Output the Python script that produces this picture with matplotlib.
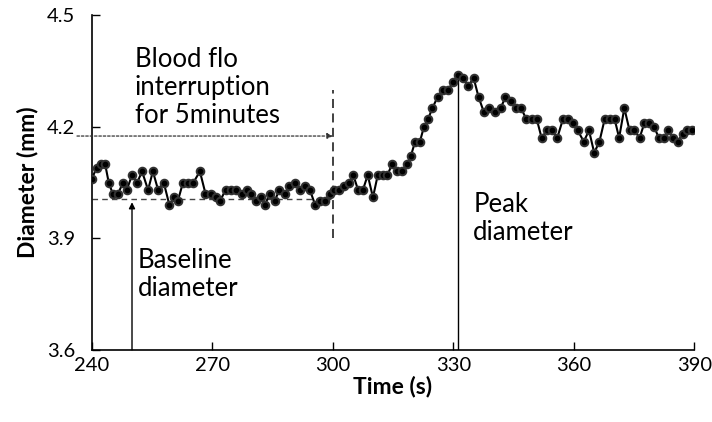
import matplotlib
matplotlib.use("Agg")
import matplotlib.pyplot as plt

# Data (time in s, diameter in mm)
time_s = [240.0, 241.2, 242.4, 243.3, 244.2, 245.2, 246.5, 247.8, 248.7, 250.0,
          251.3, 252.5, 254.0, 255.2, 256.5, 257.9, 259.3, 260.5, 261.4, 262.7,
          264.0, 265.3, 266.9, 268.3, 269.6, 270.8, 271.9, 273.3, 274.6, 275.9,
          277.3, 278.6, 279.7, 280.8, 282.0, 283.1, 284.3, 285.5, 286.7, 288.0,
          289.2, 290.5, 291.8, 293.0, 294.3, 295.6, 296.8, 298.0, 299.2, 300.4,
          301.6, 302.8, 304.0, 305.1, 306.3, 307.5, 308.7, 310.0, 311.2, 312.4,
          313.6, 314.8, 316.0, 317.2, 318.4, 319.4, 320.5, 321.7, 322.7, 323.7,
          324.8, 326.1, 327.4, 328.7, 330.0, 331.2, 332.4, 333.7, 335.1, 336.3,
          337.6, 339.0, 340.5, 341.8, 343.0, 344.4, 345.7, 346.9, 348.2, 349.5,
          350.8, 352.0, 353.3, 354.6, 355.9, 357.3, 358.5, 359.8, 361.0, 362.5,
          363.8, 365.1, 366.4, 367.7, 369.0, 370.2, 371.3, 372.6, 373.9, 375.1,
          376.4, 377.6, 378.8, 380.0, 381.2, 382.4, 383.5, 384.7, 385.9, 387.1,
          388.3, 389.5]
diameter_mm = [4.06, 4.09, 4.10, 4.10, 4.05, 4.02, 4.02, 4.05, 4.03, 4.07,
               4.05, 4.08, 4.03, 4.08, 4.03, 4.05, 3.99, 4.01, 4.00, 4.05,
               4.05, 4.05, 4.08, 4.02, 4.02, 4.01, 4.00, 4.03, 4.03, 4.03,
               4.02, 4.03, 4.02, 4.00, 4.01, 3.99, 4.02, 4.00, 4.03, 4.02,
               4.04, 4.05, 4.03, 4.04, 4.03, 3.99, 4.00, 4.00, 4.02, 4.03,
               4.03, 4.04, 4.05, 4.07, 4.03, 4.03, 4.07, 4.01, 4.07, 4.07,
               4.07, 4.10, 4.08, 4.08, 4.10, 4.12, 4.16, 4.16, 4.20, 4.22,
               4.25, 4.28, 4.30, 4.30, 4.32, 4.34, 4.33, 4.31, 4.33, 4.28,
               4.24, 4.25, 4.24, 4.25, 4.28, 4.27, 4.25, 4.25, 4.22, 4.22,
               4.22, 4.17, 4.19, 4.19, 4.17, 4.22, 4.22, 4.21, 4.19, 4.16,
               4.19, 4.13, 4.16, 4.22, 4.22, 4.22, 4.17, 4.25, 4.19, 4.19,
               4.17, 4.21, 4.21, 4.20, 4.17, 4.17, 4.19, 4.17, 4.16, 4.18,
               4.19, 4.19]

x_ticks = [240, 270, 300, 330, 360, 390]
y_ticks = [3.6, 3.9, 4.2, 4.5]
y_tick_labels = ["3.6", "3.9", "4.2", "4.5"]

baseline_value = 4.005
occlusion_end = 300
arrow_level = 4.175
baseline_time = 250
peak_time = 331.2
peak_value = 4.34

FONT = ["Lato", "DejaVu Sans"]
plt.rcParams['font.family'] = FONT

fig = plt.figure(figsize=(7.12, 4.22), dpi=100)
ax = fig.add_axes([0.129, 0.171, 0.846, 0.793])

ax.plot(time_s, diameter_mm, color="black", lw=1.5, marker="o", markersize=5.5,
        markerfacecolor="black", markeredgecolor="#333333", markeredgewidth=1.4,
        zorder=3)

# baseline dashed line
ax.plot([240, occlusion_end], [baseline_value, baseline_value], color="#444444",
        lw=1.0, ls=(0, (4, 3)), zorder=2)
# vertical dashed line at end of occlusion
ax.plot([occlusion_end, occlusion_end], [3.90, 4.30], color="#333333", lw=1.3,
        ls=(0, (5, 3)), zorder=2)
# dotted arrow for interruption
ax.annotate("", xy=(occlusion_end, arrow_level), xytext=(236.3, arrow_level),
            xycoords="data", textcoords="data", annotation_clip=False,
            arrowprops=dict(arrowstyle="-|>", color="#333333", lw=0.9,
                            linestyle=(0, (2, 1.5)), mutation_scale=8,
                            shrinkA=0, shrinkB=0))
# baseline arrow
ax.annotate("", xy=(baseline_time, baseline_value - 0.008), xytext=(baseline_time, 3.6),
            arrowprops=dict(arrowstyle="-|>", color="black", lw=1.0,
                            mutation_scale=9, shrinkA=0, shrinkB=0))
# peak line
ax.plot([peak_time, peak_time], [3.6, peak_value], color="black", lw=1.0, zorder=2)

ax.text(250.7, 4.415, "Blood flo\ninterruption\nfor 5minutes", fontsize=18.5,
        va="top", ha="left", linespacing=1.15)
ax.text(251.4, 3.875, "Baseline\ndiameter", fontsize=18.5, va="top", ha="left",
        linespacing=1.15)
ax.text(335.0, 4.025, "Peak\ndiameter", fontsize=18.5, va="top", ha="left",
        linespacing=1.15)

ax.set_xlim(240, 390)
ax.set_ylim(3.6, 4.5)
ax.set_xticks(x_ticks)
ax.set_yticks(y_ticks)
ax.set_yticklabels(y_tick_labels)
ax.tick_params(direction="in", length=6, width=1, labelsize=14.5)
ax.tick_params(axis="y", pad=12)
ax.tick_params(axis="x", pad=5)
for s in ["top", "right"]:
    ax.spines[s].set_visible(False)
for s in ["left", "bottom"]:
    ax.spines[s].set_linewidth(1.2)

ax.set_xlabel("Time (s)", fontsize=16.5, fontweight="bold", labelpad=1)
ax.set_ylabel("Diameter (mm)", fontsize=16.5, fontweight="bold", labelpad=6)

fig.savefig("out.png", dpi=100)
